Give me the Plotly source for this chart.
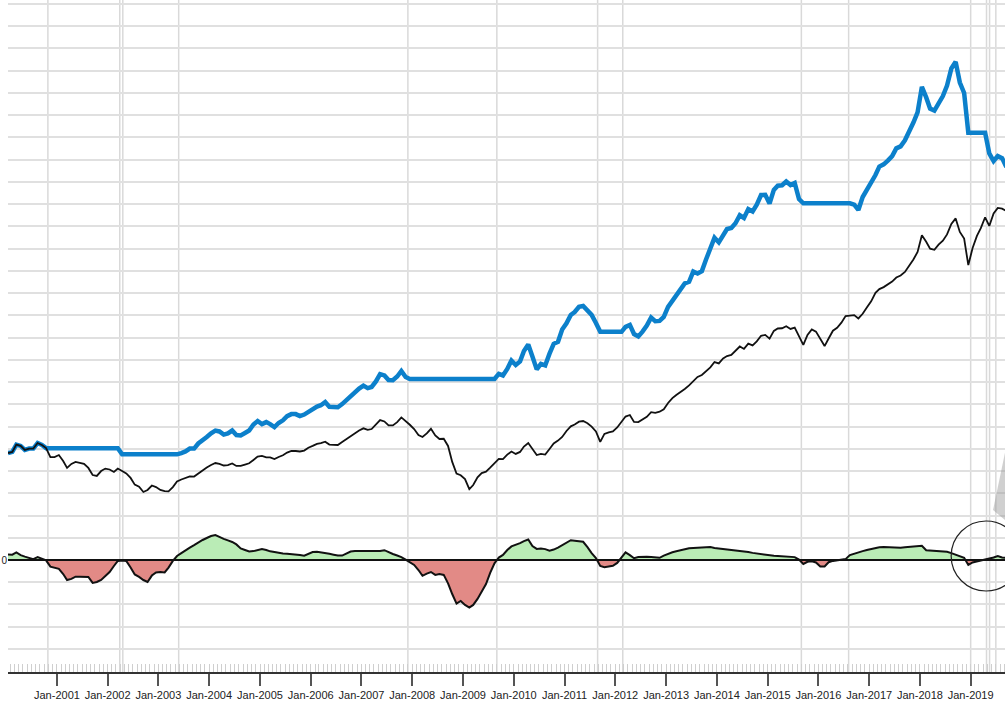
import pandas as pd
import plotly.graph_objects as go

# ---------------- data (monthly, Jan 2000 .. Sep 2019) ----------------
start_month = "2000-01-01"
n_months = 237

benchmark = [
    48.1, 48.6, 51.9, 51.3, 49.5, 50.1, 50.1, 52.6, 51.7, 50.3,
    46.3, 46.3, 47.2, 44.5, 41.4, 43.2, 44.1, 43.8, 43.2, 41.4,
    38.2, 37.8, 40.0, 41.1, 40.7, 39.6, 41.1, 40.0, 38.9, 36.9,
    33.9, 33.0, 30.6, 31.5, 33.5, 32.8, 31.5, 31.0, 30.9, 32.8,
    35.3, 36.2, 36.9, 37.6, 37.5, 38.9, 40.5, 41.6, 42.7, 43.6,
    43.2, 42.5, 42.7, 43.4, 42.3, 42.3, 42.9, 43.5, 45.0, 46.5,
    46.8, 46.1, 46.1, 45.4, 46.3, 47.1, 48.3, 49.0, 49.0, 48.8,
    49.2, 50.5, 51.3, 52.2, 52.6, 53.2, 51.9, 51.7, 51.7, 53.1,
    54.4, 56.0, 57.3, 58.2, 59.2, 58.5, 58.9, 60.7, 62.9, 62.3,
    60.5, 60.5, 62.0, 64.1, 62.5, 60.8, 58.9, 56.2, 55.3, 56.9,
    59.0, 56.0, 54.4, 54.5, 51.3, 44.1, 38.9, 38.1, 36.4, 31.9,
    33.7, 37.2, 39.1, 39.7, 41.5, 43.4, 45.5, 45.4, 47.4, 48.8,
    47.7, 48.6, 51.0, 52.6, 50.1, 47.2, 47.7, 47.4, 49.9, 52.4,
    53.7, 55.3, 58.0, 60.1, 60.9, 62.2, 62.5, 61.5, 60.0, 57.8,
    53.1, 56.7, 57.4, 57.8, 59.6, 62.3, 64.5, 65.2, 62.1, 62.0,
    63.3, 64.4, 66.5, 66.2, 66.7, 67.8, 70.6, 72.8, 74.2, 75.5,
    76.9, 78.5, 80.5, 82.3, 83.2, 84.8, 86.6, 89.0, 88.4, 90.6,
    91.7, 92.2, 94.0, 96.0, 94.9, 97.3, 96.5, 98.3, 100.8, 101.2,
    99.5, 103.0, 104.1, 104.2, 105.1, 103.9, 104.5, 100.7, 96.7, 101.2,
    103.7, 102.7, 99.1, 96.2, 99.6, 103.1, 104.4, 106.7, 109.7, 110.0,
    110.1, 108.6, 110.7, 113.5, 116.3, 120.1, 121.8, 122.7, 124.0, 125.2,
    127.0, 127.9, 129.5, 132.1, 135.1, 138.5, 146.0, 143.1, 140.0, 139.5,
    141.8, 143.6, 146.4, 151.1, 153.6, 147.5, 144.5, 132.6, 140.3, 145.7,
    149.2, 154.1, 150.2, 155.8, 158.3, 158.0, 156.9,
]

strategy = [
    48.1, 48.6, 51.9, 51.3, 49.5, 50.1, 50.1, 52.6, 51.7, 50.3,
    50.3, 50.3, 50.3, 50.3, 50.3, 50.3, 50.3, 50.3, 50.3, 50.3,
    50.3, 50.3, 50.3, 50.3, 50.3, 50.3, 50.3, 47.5, 47.5, 47.5,
    47.5, 47.5, 47.5, 47.5, 47.5, 47.5, 47.5, 47.5, 47.5, 47.5,
    47.5, 48.1, 48.8, 50.1, 50.1, 52.4, 53.7, 55.3, 57.0, 58.2,
    57.8, 56.4, 56.9, 58.2, 56.2, 56.0, 57.1, 58.2, 60.9, 62.5,
    61.1, 62.0, 61.1, 59.8, 61.6, 62.8, 64.7, 65.6, 65.6, 64.7,
    65.4, 66.7, 67.7, 69.0, 69.6, 71.0, 68.9, 68.7, 68.7, 70.1,
    71.9, 73.9, 75.8, 77.1, 78.4, 77.3, 77.8, 80.3, 83.6, 83.0,
    80.9, 80.8, 82.5, 85.0, 82.3, 81.4, 81.4, 81.4, 81.4, 81.4,
    81.4, 81.4, 81.4, 81.4, 81.4, 81.4, 81.4, 81.4, 81.4, 81.4,
    81.4, 81.4, 81.4, 81.4, 81.4, 81.4, 83.7, 83.0, 85.9, 89.7,
    87.7, 89.3, 94.0, 96.9, 91.5, 85.7, 88.2, 87.5, 92.8, 97.2,
    98.1, 103.6, 106.4, 110.2, 111.5, 113.8, 114.2, 112.4, 110.2, 106.6,
    102.6, 102.6, 102.6, 102.6, 102.6, 102.6, 104.8, 105.7, 101.6, 100.5,
    102.7, 105.4, 109.0, 107.4, 107.5, 109.3, 113.8, 116.5, 119.6, 122.4,
    124.4, 125.1, 129.7, 128.8, 129.9, 135.1, 140.7, 144.9, 142.8, 145.7,
    148.8, 149.3, 151.4, 155.0, 153.8, 157.8, 156.7, 159.8, 164.1, 164.2,
    160.3, 166.4, 168.3, 168.5, 170.2, 168.6, 169.5, 162.3, 160.4, 160.4,
    160.4, 160.4, 160.4, 160.4, 160.4, 160.4, 160.4, 160.4, 160.4, 160.4,
    159.8, 157.4, 163.2, 166.4, 168.8, 173.1, 176.9, 177.9, 179.6, 181.6,
    185.1, 186.0, 188.7, 192.2, 196.7, 201.3, 212.7, 208.0, 203.0, 202.1,
    205.7, 208.6, 213.3, 221.0, 224.0, 214.7, 210.0, 192.1, 192.1, 192.1,
    192.1, 192.1, 182.8, 179.4, 181.6, 180.7, 176.7,
]

signal_diff = [
    2.5, 2.4, 3.4, 2.2, 1.5, 0.9, 0.4, 1.3, 0.7, -0.2,
    -3.0, -3.6, -4.0, -6.3, -9.0, -8.5, -7.5, -7.5, -7.5, -7.6,
    -10.3, -9.9, -9.0, -7.2, -5.4, -2.7, -0.4, -0.2, -0.4, -3.4,
    -6.5, -7.6, -9.0, -9.9, -7.0, -5.6, -5.4, -5.6, -3.4, -0.4,
    1.8, 3.1, 4.5, 5.6, 6.7, 7.9, 9.0, 9.9, 10.8, 11.2,
    10.3, 9.5, 8.8, 8.1, 7.0, 5.2, 4.5, 3.8, 4.0, 4.5,
    4.9, 4.5, 3.9, 3.6, 3.1, 2.9, 2.8, 2.7, 2.5, 2.2,
    1.9, 2.9, 3.6, 3.7, 3.5, 3.1, 2.8, 2.4, 2.0, 2.0,
    2.9, 3.8, 4.0, 4.0, 4.0, 4.0, 3.9, 3.7, 4.0, 4.4,
    3.4, 2.7, 2.0, 1.3, 0.2, -0.9, -2.2, -4.5, -7.1, -6.1,
    -5.4, -6.7, -6.3, -6.7, -10.5, -15.3, -19.6, -18.4, -20.2, -21.4,
    -20.2, -17.5, -14.4, -10.8, -5.8, -1.5, 1.1, 2.3, 4.5, 6.1,
    6.7, 7.6, 8.5, 9.2, 6.3, 5.0, 5.2, 4.9, 4.2, 4.7,
    5.6, 6.7, 7.9, 8.9, 8.7, 8.5, 8.2, 5.8, 3.1, 0.9,
    -2.7, -3.2, -2.9, -2.6, -1.3, 0.9, 3.4, 2.2, 0.8, 1.3,
    1.5, 1.5, 1.4, 1.2, 1.0, 2.0, 2.9, 3.5, 3.9, 4.4,
    4.9, 5.3, 5.4, 5.5, 5.7, 5.9, 5.8, 5.4, 5.2, 5.1,
    4.9, 4.7, 4.5, 4.2, 3.9, 3.6, 3.2, 2.9, 2.7, 2.5,
    2.2, 1.9, 1.8, 1.6, 1.5, 1.5, 1.3, 0.2, -1.8, -0.8,
    -0.6, -1.1, -2.9, -2.9, -1.0, -0.4, -0.1, 0.0, 0.4, 2.2,
    2.9, 3.5, 4.0, 4.5, 5.0, 5.4, 5.7, 5.8, 5.7, 5.6,
    5.5, 5.5, 5.7, 5.8, 6.0, 6.2, 6.4, 4.4, 4.3, 4.0,
    4.0, 3.8, 3.7, 3.1, 2.4, 1.6, 1.0, -2.2, -1.1, -0.8,
    -0.2, 0.2, 0.4, 1.1, 1.8, 1.1, 0.9,
]

# dates where the trading signal switched (drawn as vertical guide lines)
signal_dates = [
    "2000-10-28", "2002-03-29", "2002-04-20", "2003-05-27", "2007-12-01",
    "2009-09-01", "2011-08-27", "2012-02-24", "2015-09-01", "2016-08-06",
    "2019-01-01", "2019-04-25", "2019-05-17", "2019-07-01",
]

grid_values = list(range(-40, 251, 10))
x_end = "2019-09-05"

# ---------------- build ----------------
dates = pd.date_range(start_month, periods=n_months, freq="MS") + pd.Timedelta(days=14)

# insert zero crossings so the green/red fills split cleanly at 0
ts = dates.asi8
xs, ys = [], []
for i in range(n_months):
    if i > 0:
        a, b = signal_diff[i - 1], signal_diff[i]
        if a * b < 0:
            f = a / (a - b)
            tc = ts[i - 1] + f * (ts[i] - ts[i - 1])
            xs.append(pd.Timestamp(int(tc)))
            ys.append(0.0)
    xs.append(dates[i])
    ys.append(signal_diff[i])
pos = [max(v, 0.0) for v in ys]
neg = [min(v, 0.0) for v in ys]

fig = go.Figure()
fig.add_trace(go.Scatter(x=xs, y=pos, mode="lines", fill="tozeroy",
                         fillcolor="rgb(186,236,182)", line=dict(width=0),
                         hoverinfo="skip", showlegend=False))
fig.add_trace(go.Scatter(x=xs, y=neg, mode="lines", fill="tozeroy",
                         fillcolor="rgb(226,138,134)", line=dict(width=0),
                         hoverinfo="skip", showlegend=False))
fig.add_trace(go.Scatter(x=xs, y=ys, mode="lines",
                         line=dict(color="#111111", width=2),
                         showlegend=False))
fig.add_trace(go.Scatter(x=dates, y=strategy, mode="lines",
                         line=dict(color="#0C80CB", width=4.5),
                         showlegend=False))
fig.add_trace(go.Scatter(x=dates, y=benchmark, mode="lines",
                         line=dict(color="#111111", width=1.8),
                         showlegend=False))

shapes = []
for d in signal_dates:
    shapes.append(dict(type="line", xref="x", yref="paper", x0=d, x1=d,
                       y0=0, y1=1, layer="below",
                       line=dict(color="#d9d9d9", width=1.5)))
# zero line of the signal panel
shapes.append(dict(type="line", xref="paper", yref="y", x0=0, x1=1, y0=0, y1=0,
                   layer="above", line=dict(color="#111111", width=2)))
# highlight circle and magnifier wedge
shapes.append(dict(type="circle", xref="paper", yref="paper",
                   x0=0.946, x1=1.016, y0=0.1205, y1=0.2247,
                   line=dict(color="#222222", width=1.2)))
shapes.append(dict(type="path", xref="paper", yref="paper",
                   path="M 0.988 0.241 L 1.015 0.433 L 1.015 0.208 Z",
                   fillcolor="rgba(150,150,150,0.45)", line=dict(width=0)))

fig.update_layout(
    template="none",
    width=1005, height=704,
    margin=dict(l=8, r=0, t=0, b=32),
    paper_bgcolor="white", plot_bgcolor="white",
    showlegend=False,
    shapes=shapes,
    font=dict(family="Liberation Sans, Arial, sans-serif", size=11, color="#222"),
    xaxis=dict(
        type="date", range=[dates[0], x_end], automargin=False,
        showgrid=False, zeroline=False,
        tickformat="%b-%Y", dtick="M12", tick0="2001-01-01",
        ticks="outside", ticklen=12, tickwidth=1.5, tickcolor="#555",
        showline=True, linecolor="#333", linewidth=1.5,
        tickfont=dict(size=11, color="#222"),
        minor=dict(dtick="M1", tick0="2000-01-01", ticks="inside",
                   ticklen=8, tickwidth=1, tickcolor="#cfcfcf", showgrid=False),
    ),
    yaxis=dict(
        range=[-50.36, 251.8], automargin=False,
        tickmode="array", tickvals=grid_values,
        ticktext=["0" if v == 0 else "" for v in grid_values],
        showgrid=True, gridcolor="#e0e0e0", gridwidth=1.5,
        zeroline=False, showline=False, ticks="",
        tickfont=dict(size=10, color="#222"),
    ),
)

fig.write_html(
    "out.html",
    config={"displayModeBar": False},
    post_script="document.body.style.margin='0';document.body.style.overflow='hidden';",
)
